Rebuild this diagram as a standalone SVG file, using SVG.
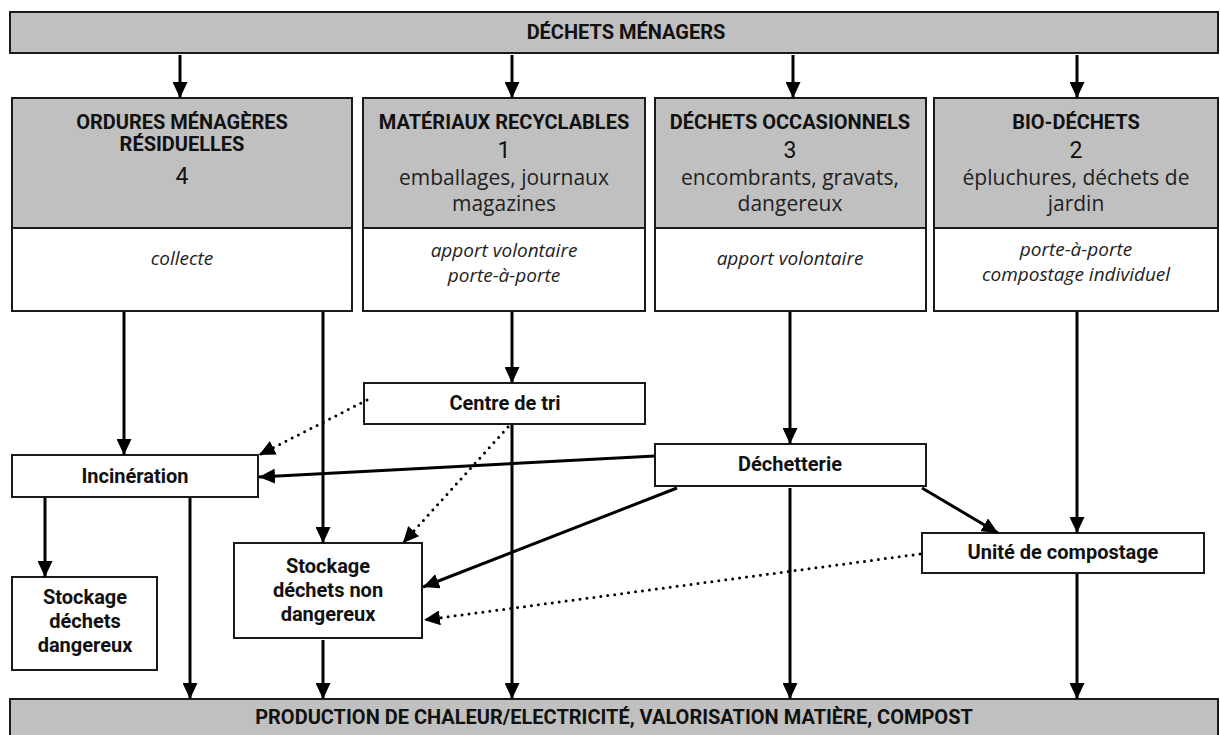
<svg xmlns="http://www.w3.org/2000/svg" width="1220" height="735" viewBox="0 0 1220 735">
<style>
.g{fill:#c0c0c0;stroke:#1a1a1a;stroke-width:2}
.w{fill:#fff;stroke:#1a1a1a;stroke-width:2}
.l{font-family:"Roboto","Liberation Sans",sans-serif;font-weight:bold;font-size:20px;text-anchor:middle;fill:#111}
.n{font-family:"Roboto","Liberation Sans",sans-serif;font-size:23px;text-anchor:middle;fill:#111}
.d{font-family:"Open Sans","Liberation Sans",sans-serif;font-size:21px;text-anchor:middle;fill:#222}
.i{font-family:"Open Sans","Liberation Sans",sans-serif;font-style:italic;font-size:19px;text-anchor:middle;fill:#222}
.s{fill:none;stroke:#000;stroke-width:3;marker-end:url(#ah)}
.dt{fill:none;stroke:#000;stroke-width:3;stroke-dasharray:0 7;stroke-linecap:round;marker-end:url(#ah)}
</style>
<defs>
<marker id="ah" markerUnits="userSpaceOnUse" markerWidth="17" markerHeight="15" refX="16" refY="7.5" orient="auto">
<path d="M0,0 L16,7.5 L0,15 Z" fill="#000"/>
</marker>
</defs>
<rect width="1220" height="735" fill="#fff"/>
<g id="top"><rect class="g" x="10" y="12" width="1208" height="41"/><text class="l" x="626" y="39">DÉCHETS MÉNAGERS</text></g>
<g id="col1"><rect class="g" x="12" y="98" width="340" height="130"/><rect class="w" x="12" y="228" width="340" height="83"/>
<text class="l" x="182" y="129">ORDURES MÉNAGÈRES</text><text class="l" x="182" y="151">RÉSIDUELLES</text><text class="n" x="182" y="184">4</text>
<text class="i" x="182" y="265">collecte</text></g>
<g id="col2"><rect class="g" x="363" y="98" width="282" height="130"/><rect class="w" x="363" y="228" width="282" height="83"/>
<text class="l" x="504" y="129">MATÉRIAUX RECYCLABLES</text><text class="n" x="504" y="158">1</text>
<text class="d" x="504" y="185">emballages, journaux</text><text class="d" x="504" y="211">magazines</text>
<text class="i" x="504" y="257">apport volontaire</text><text class="i" x="504" y="282">porte-à-porte</text></g>
<g id="col3"><rect class="g" x="655" y="98" width="271" height="130"/><rect class="w" x="655" y="228" width="271" height="83"/>
<text class="l" x="790" y="129">DÉCHETS OCCASIONNELS</text><text class="n" x="790" y="158">3</text>
<text class="d" x="790" y="185">encombrants, gravats,</text><text class="d" x="790" y="211">dangereux</text>
<text class="i" x="790" y="265">apport volontaire</text></g>
<g id="col4"><rect class="g" x="934" y="98" width="284" height="130"/><rect class="w" x="934" y="228" width="284" height="83"/>
<text class="l" x="1076" y="129">BIO-DÉCHETS</text><text class="n" x="1076" y="158">2</text>
<text class="d" x="1076" y="185">épluchures, déchets de</text><text class="d" x="1076" y="211">jardin</text>
<text class="i" x="1076" y="256">porte-à-porte</text><text class="i" x="1076" y="281">compostage individuel</text></g>
<g id="tri"><rect class="w" x="364" y="383" width="281" height="41"/><text class="l" x="505" y="410">Centre de tri</text></g>
<g id="incin"><rect class="w" x="12" y="455" width="246" height="42"/><text class="l" x="135" y="483">Incinération</text></g>
<g id="dechetterie"><rect class="w" x="655" y="444" width="271" height="42"/><text class="l" x="790" y="471">Déchetterie</text></g>
<g id="compost"><rect class="w" x="922" y="533" width="282" height="40"/><text class="l" x="1063" y="559">Unité de compostage</text></g>
<g id="stockND"><rect class="w" x="234" y="543" width="188" height="95"/><text class="l" x="328" y="573">Stockage</text><text class="l" x="328" y="597">déchets non</text><text class="l" x="328" y="621">dangereux</text></g>
<g id="stockD"><rect class="w" x="12" y="577" width="145" height="93"/><text class="l" x="85" y="604">Stockage</text><text class="l" x="85" y="628">déchets</text><text class="l" x="85" y="652">dangereux</text></g>
<g id="bottom"><rect class="g" x="10" y="699" width="1208" height="40"/><text class="l" x="614" y="724">PRODUCTION DE CHALEUR/ELECTRICITÉ, VALORISATION MATIÈRE, COMPOST</text></g>
<g id="connectors">
<path class="s" d="M180,55 V98"/><path class="s" d="M512,55 V98"/><path class="s" d="M793,55 V98"/><path class="s" d="M1077,55 V98"/>
<path class="s" d="M124,312 V455"/><path class="s" d="M323,312 V543"/><path class="s" d="M512,312 V383"/><path class="s" d="M790,312 V444"/><path class="s" d="M1077,312 V533"/>
<path class="s" d="M512,425 V699"/><path class="s" d="M655,456 L259,477"/><path class="s" d="M677,488 L423,587"/><path class="s" d="M922,488 L998,533"/><path class="s" d="M790,488 V699"/>
<path class="s" d="M45,498 V577"/><path class="s" d="M190,498 V699"/><path class="s" d="M323,640 V699"/><path class="s" d="M1077,574 V699"/>
<path class="dt" d="M367,400 L259,455"/><path class="dt" d="M508,427 L403,543"/><path class="dt" d="M920,554 L424,620"/>
</g>
</svg>
